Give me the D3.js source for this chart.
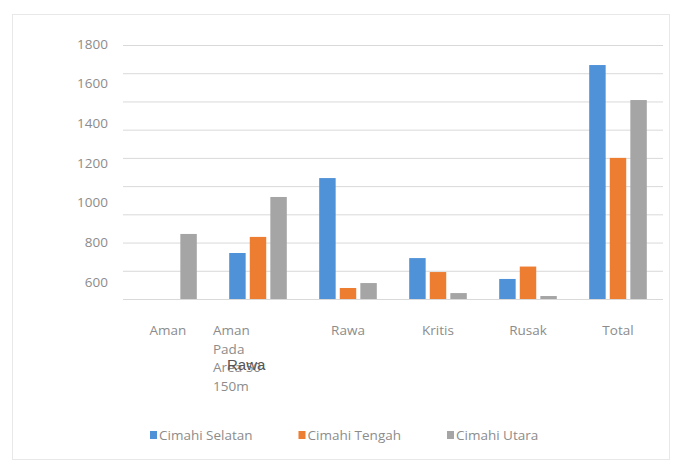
<!DOCTYPE html>
<html>
<head>
<meta charset="utf-8">
<script src="https://cdn.jsdelivr.net/npm/d3@7/dist/d3.min.js"></script>
<style>
  html, body { margin: 0; padding: 0; background: #fff; }
  svg { display: block; }
  text { font-family: "Open Sans", "Liberation Sans", sans-serif; }
</style>
</head>
<body>
<svg id="chart" width="675" height="464"></svg>
<script>
// ---- data ----
const categories = ["Aman", "Aman Pada Area 50-150m", "Rawa", "Kritis", "Rusak", "Total"];
const categoryLines = [["Aman"], ["Aman", "Pada", "Area 50-", "150m"], ["Rawa"], ["Kritis"], ["Rusak"], ["Total"]];
const seriesNames = ["Cimahi Selatan", "Cimahi Tengah", "Cimahi Utara"];
const selatan = [0, 326, 857, 290, 142, 1658];
const tengah  = [0, 440, 78, 191, 230, 1000];
const utara   = [461, 723, 113, 42, 21, 1410];
const yTickLabels = ["1800", "1600", "1400", "1200", "1000", "800", "600"];
const gridValues = [0, 200, 400, 600, 800, 1000, 1200, 1400, 1600, 1800];
const overlayText = "Rawa";

const colors = ["#4f92d8", "#ed7d31", "#a5a5a5"];
const seriesValues = [selatan, tengah, utara];
const textColor = "#8c8c8c";
const fontSize = "13.5px";

const svg = d3.select("#chart");

// outer frame
svg.append("rect")
  .attr("x", 12.5).attr("y", 14.5).attr("width", 657).attr("height", 445)
  .attr("fill", "none").attr("stroke", "#e8e8e8");

const plot = { left: 123, right: 663, top: 45, bottom: 299 };

const x0 = d3.scaleBand().domain(categories).range([plot.left, plot.right])
  .paddingInner(0.36).paddingOuter(0.18);
const x1 = d3.scaleBand().domain(seriesNames).range([0, x0.bandwidth()]).paddingInner(0.2);
const y = d3.scaleLinear().domain([0, 1800]).range([plot.bottom, plot.top]);

// gridlines
const grid = svg.append("g")
  .attr("transform", `translate(${plot.left},0)`)
  .call(d3.axisLeft(y).tickValues(gridValues).tickSize(-(plot.right - plot.left)).tickFormat(""));
grid.select(".domain").remove();
grid.selectAll(".tick line").attr("stroke", "#d9d9d9").attr("stroke-width", 1);

// y tick labels (as shown in the reference, evenly spaced)
const yl = d3.scalePoint().domain(yTickLabels).range([44, 282]);
const yAxis = svg.append("g")
  .attr("transform", `translate(108,0)`)
  .call(d3.axisLeft(yl).tickSize(0).tickPadding(0));
yAxis.select(".domain").remove();
yAxis.selectAll("text").attr("fill", textColor).style("font-size", fontSize)
  .style("font-family", "'Open Sans', sans-serif");

// bars
const rows = categories.map((c, i) => ({ cat: c, vals: seriesNames.map((s, j) => ({ s, v: seriesValues[j][i], j })) }));
const groups = svg.append("g").selectAll("g").data(rows).join("g")
  .attr("transform", d => `translate(${x0(d.cat)},0)`);
groups.selectAll("rect").data(d => d.vals.filter(v => v.v > 0)).join("rect")
  .attr("x", d => x1(d.s))
  .attr("width", x1.bandwidth())
  .attr("y", d => y(d.v))
  .attr("height", d => y(0) - y(d.v))
  .attr("fill", d => colors[d.j]);

// x labels
const xl = svg.append("g");
categories.forEach((c, i) => {
  const lines = categoryLines[i];
  const cx = x0(c) + x0.bandwidth() / 2;
  const multi = lines.length > 1;
  const tx = multi ? cx - 45 : cx;
  const t = xl.append("text")
    .attr("x", tx)
    .attr("y", 335)
    .attr("text-anchor", multi ? "start" : "middle")
    .attr("fill", textColor)
    .style("font-size", fontSize);
  lines.forEach((ln, k) => {
    t.append("tspan").attr("x", tx).attr("dy", k === 0 ? 0 : 18.5).text(ln);
  });
});

// overlay text seen in the reference
svg.append("text")
  .attr("x", x0(categories[1]) + x0.bandwidth() / 2 - 31)
  .attr("y", 370)
  .attr("fill", "#555")
  .style("font-size", "15px")
  .style("font-family", "'Liberation Sans', sans-serif")
  .text(overlayText);

// legend
const legendX = d3.scalePoint().domain(seriesNames).range([150, 447]);
const leg = svg.append("g").selectAll("g").data(seriesNames).join("g")
  .attr("transform", d => `translate(${legendX(d)},435)`);
leg.append("rect").attr("x", 0).attr("y", -4).attr("width", 7).attr("height", 8)
  .attr("fill", (d, i) => colors[i]);
leg.append("text").attr("x", 9).attr("y", 5).attr("fill", textColor)
  .style("font-size", fontSize).text(d => d);
</script>
</body>
</html>
